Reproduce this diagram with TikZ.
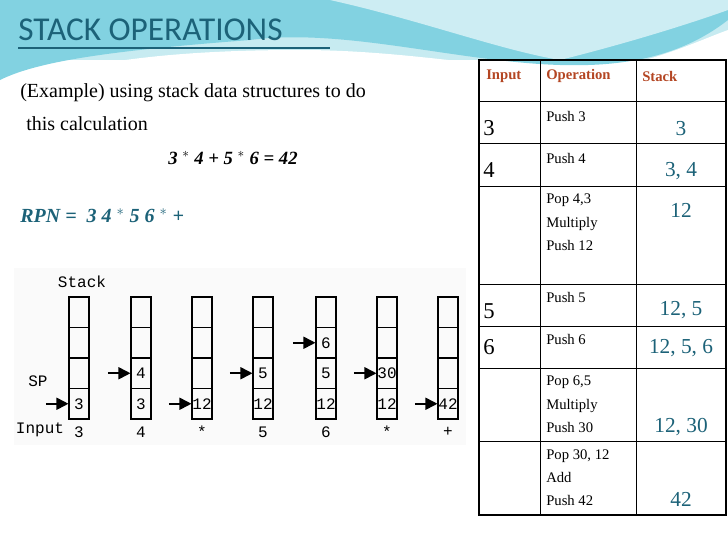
\documentclass[tikz,border=0pt]{standalone}
\usepackage{fontspec}
\setmainfont{Liberation Serif}
\newfontfamily\titlefont{Carlito}
\newfontfamily\monofont{Liberation Mono}
\usetikzlibrary{arrows.meta, positioning}
\definecolor{teal1}{RGB}{28,98,120}
\definecolor{rust}{RGB}{180,70,35}
\definecolor{wave}{RGB}{130,210,225}
\begin{document}
\begin{tikzpicture}[x=0.75pt, y=-0.75pt, >={Triangle[length=9pt,width=9pt]},
    cell/.style={draw, thick, minimum width=15pt, minimum height=22.9pt, inner sep=0pt, font=\monofont\fontsize{12}{12}\selectfont},
    lbl/.style={font=\monofont\fontsize{12}{12}\selectfont, inner sep=0pt},
    op/.style={anchor=north west, align=left, font=\fontsize{11}{17.5}\selectfont, inner sep=0pt},
    inp/.style={anchor=west, font=\fontsize{17}{17}\selectfont, inner sep=0pt},
    val/.style={text=teal1, font=\fontsize{16}{16}\selectfont, inner sep=0pt},
    hd/.style={anchor=west, text=rust, font=\bfseries\fontsize{11}{11}\selectfont, inner sep=0pt}]
    \useasboundingbox (0,0) rectangle (728,546);
    % banner
    \fill[wave!45] (0,0) rectangle (728,60);
    \fill[wave] (0,0) -- (728,0) -- (728,20) .. controls (600,120) and (400,20) .. (250,40)
        .. controls (120,50) and (40,60) .. (0,80) -- cycle;
    \fill[wave!40] (330,0) .. controls (420,20) and (500,50) .. (560,60) .. controls (640,40) and (700,20) .. (728,10) -- (728,0) -- cycle;
    \fill[white] (0,90) .. controls (80,60) and (180,50) .. (300,50) .. controls (420,50) and (520,75) .. (600,70)
        .. controls (660,60) and (700,40) .. (728,30) -- (728,546) -- (0,546) -- cycle;
    % title
    \node[anchor=west, text=teal1, font=\titlefont\fontsize{25}{25}\selectfont, inner sep=0pt] (title) at (18,30) {STACK OPERATIONS};
    \draw[teal1, line width=1.5pt] (18,48) -- (330,48);
    % text
    \node[anchor=west, font=\fontsize{15}{15}\selectfont, inner sep=0pt] (ex) at (20,93) {(Example) using stack data structures to do};
    \node[anchor=west, font=\fontsize{15}{15}\selectfont, inner sep=0pt] (calc) at (26,124) {this calculation};
    \node[font=\bfseries\itshape\fontsize{14}{14}\selectfont, inner sep=0pt] (eq) at (233,158) {3 $^*$ 4 + 5 $^*$ 6 = 42};
    \node[anchor=west, text=teal1, font=\bfseries\itshape\fontsize{15}{15}\selectfont, inner sep=0pt] (rpn) at (20,216) {RPN = ~3 4 $^*$ 5 6 $^*$ +};
    % stack figure
    \fill[gray!4] (14,268) rectangle (466,445);
    \node[lbl] (stk) at (82,282) {Stack};
    \node[lbl] (sp) at (38,381) {SP};
    \node[lbl] (input) at (40,430) {Input};
    \foreach \i/\x/\vals/\sp/\inp in {1/69/{{},{},{},3}/4/3, 2/131/{{},{},4,3}/3/4, 3/192/{{},{},{},12}/4/*,
        4/253/{{},{},5,12}/3/5, 5/316/{{},6,5,12}/2/6, 6/377/{{},{},30,12}/3/*, 7/438/{{},{},{},42}/4/+} {
      \foreach \v [count=\j] in \vals
        \node[cell] (s\i-\j) at (\x+10,281.75+30.5*\j) {\v};
      \node[lbl] (in\i) at (\x+10,432) {\inp};
      \coordinate[left=17pt of s\i-\sp.west] (a\i);
      \draw[->, line width=1.3pt] (a\i) -- (s\i-\sp.west);
    }
    % table
    \draw[thick] (479,60) rectangle (726,515);
    \draw (540,60) -- (540,515) (636,60) -- (636,515);
    \foreach \y in {101,143,186,284,326,368,441}
      \draw (479,\y) -- (726,\y);
    \node[hd] (h1) at (486,76) {Input};
    \node[hd] (h2) at (546,76) {Operation};
    \node[hd] (h3) at (642,76) {Stack};
    \node[inp] (i1) at (483,128) {3};
    \node[inp] (i2) at (483,170) {4};
    \node[inp] (i4) at (483,311) {5};
    \node[inp] (i5) at (483,347) {6};
    \node[op] (o1) at (546,111) {Push 3};
    \node[op] (o2) at (546,153) {Push 4};
    \node[op] (o3) at (546,194) {Pop 4,3\\Multiply\\Push 12};
    \node[op] (o4) at (546,292) {Push 5};
    \node[op] (o5) at (546,334) {Push 6};
    \node[op] (o6) at (546,376) {Pop 6,5\\Multiply\\Push 30};
    \node[op] (o7) at (546,449) {Pop 30, 12\\Add\\Push 42};
    \node[val] (v1) at (681,129) {3};
    \node[val] (v2) at (681,171) {3, 4};
    \node[val] (v3) at (681,210) {12};
    \node[val] (v4) at (681,310) {12, 5};
    \node[val] (v5) at (681,348) {12, 5, 6};
    \node[val] (v6) at (681,427) {12, 30};
    \node[val] (v7) at (681,499) {42};
\end{tikzpicture}
\end{document}
